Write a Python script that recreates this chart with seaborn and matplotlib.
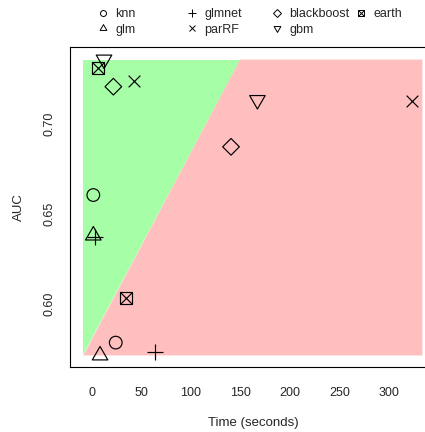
import matplotlib.pyplot as plt
from matplotlib.lines import Line2D
from matplotlib.path import Path
from matplotlib.legend_handler import HandlerTuple
import pandas as pd
import seaborn as sns

# two runs per model
models = ['knn', 'glm', 'glmnet', 'parRF', 'blackboost', 'gbm', 'earth']
time_a = [1.6, 1.6, 3.3, 42.6, 21.8, 12.4, 6.7]
auc_a = [0.6603, 0.6379, 0.6373, 0.7236, 0.7203, 0.7353, 0.7308]
time_b = [24.2, 8.4, 63.8, 323.2, 140.4, 167.0, 34.6]
auc_b = [0.5786, 0.5715, 0.5736, 0.7125, 0.6870, 0.7129, 0.6032]

# shaded regions: time span of the band and the split line (bottom -> top)
band_time = [-8.5, 333.3]
split_time = [-8.5, 149.5]

x_ticks = [0, 50, 100, 150, 200, 250, 300]
y_ticks = [0.60, 0.65, 0.70]
y_tick_labels = ['0.60', '0.65', '0.70']

df = pd.DataFrame({
    'model': models * 2,
    'time': time_a + time_b,
    'auc': auc_a + auc_b,
})

sns.set_style('white')
plt.rcParams['font.family'] = ['Liberation Sans', 'DejaVu Sans']

tri_up = Path([(0, 1), (-0.866, -0.5), (0.866, -0.5), (0, 1)], closed=True)
tri_down = Path([(0, -1), (-0.866, 0.5), (0.866, 0.5), (0, -1)], closed=True)

# marker, size (pt^2) in plot, markersize (pt) in legend
marker_style = {
    'knn': ('o', 83, 4.3),
    'glm': (tri_up, 167, 5.6),
    'glmnet': ('+', 144, 5.3),
    'parRF': ('x', 71, 3.8),
    'blackboost': ('D', 72, 3.7),
    'gbm': (tri_down, 167, 5.6),
    'earth': ('s', 74, 3.8),
}
line_markers = ['+', 'x']
lw = 0.85

fig = plt.figure(figsize=(4.25, 4.32), dpi=100)
ax = fig.add_axes([0.1647, 0.1505, 0.8612, 0.740])

auc_lo, auc_hi = df['auc'].min(), df['auc'].max()
ax.fill([band_time[0], band_time[0], split_time[1]],
        [auc_lo, auc_hi, auc_hi], color='#A6FFA6', lw=0, zorder=0)
ax.fill([split_time[0], split_time[1], band_time[1], band_time[1]],
        [auc_lo, auc_hi, auc_hi, auc_lo], color='#FFBFBF', lw=0, zorder=0)

for m in models:
    sub = df[df['model'] == m]
    mk, sz, _ = marker_style[m]
    if mk in line_markers:
        sns.scatterplot(data=sub, x='time', y='auc', marker=mk, s=sz,
                        color='black', linewidth=lw, ax=ax, legend=False, zorder=3)
    else:
        sns.scatterplot(data=sub, x='time', y='auc', marker=mk, s=sz,
                        facecolors='none', edgecolor='black', linewidth=lw,
                        ax=ax, legend=False, zorder=3)
    if m == 'earth':
        sns.scatterplot(data=sub, x='time', y='auc', marker='x', s=sz,
                        color='black', linewidth=lw, ax=ax, legend=False, zorder=3)

ax.set_xlim(-21.9, 347)
ax.set_ylim(0.5651, 0.7421)
ax.set_xticks(x_ticks)
ax.set_yticks(y_ticks)
ax.set_yticklabels(y_tick_labels, rotation=90, va='center')
ax.tick_params(axis='both', direction='out', length=5, width=0.8,
               labelsize=9, color='black')
ax.tick_params(axis='x', pad=9.5)
ax.tick_params(axis='y', pad=5.5)
for s in ax.spines.values():
    s.set_color('black')
    s.set_linewidth(0.8)

ax.set_xlabel('Time (seconds)', fontsize=9.5)
ax.set_ylabel('AUC', fontsize=9.5)
ax.xaxis.label.set_va('center')
ax.xaxis.set_label_coords(0.5, -0.175)
ax.yaxis.label.set_va('center')
ax.yaxis.set_label_coords(-0.139, 0.5)

# legend: four columns placed above the plot
def handle(m):
    mk, _, ms = marker_style[m]
    h = Line2D([], [], marker=mk, markersize=ms, linestyle='none',
               markerfacecolor='none', markeredgecolor='black',
               markeredgewidth=0.7, color='black')
    if m == 'earth':
        hx = Line2D([], [], marker='x', markersize=ms, linestyle='none',
                    markeredgecolor='black', markeredgewidth=0.7)
        return (h, hx)
    return h

columns = [['knn', 'glm'], ['glmnet', 'parRF'], ['blackboost', 'gbm'], ['earth']]
col_x = [102.7, 191.7, 276.7, 360.7]
W, H = 425, 432
for names, cx in zip(columns, col_x):
    leg = fig.legend([handle(n) for n in names], names,
                     loc='upper left',
                     bbox_to_anchor=((cx - 6.25) / W, 1 - 8 / H),
                     frameon=False, fontsize=9, handlelength=1.0,
                     handletextpad=0.5, borderpad=0, borderaxespad=0,
                     labelspacing=0.29,
                     handler_map={tuple: HandlerTuple(ndivide=1, pad=0)})

fig.savefig('out.png', dpi=100)
